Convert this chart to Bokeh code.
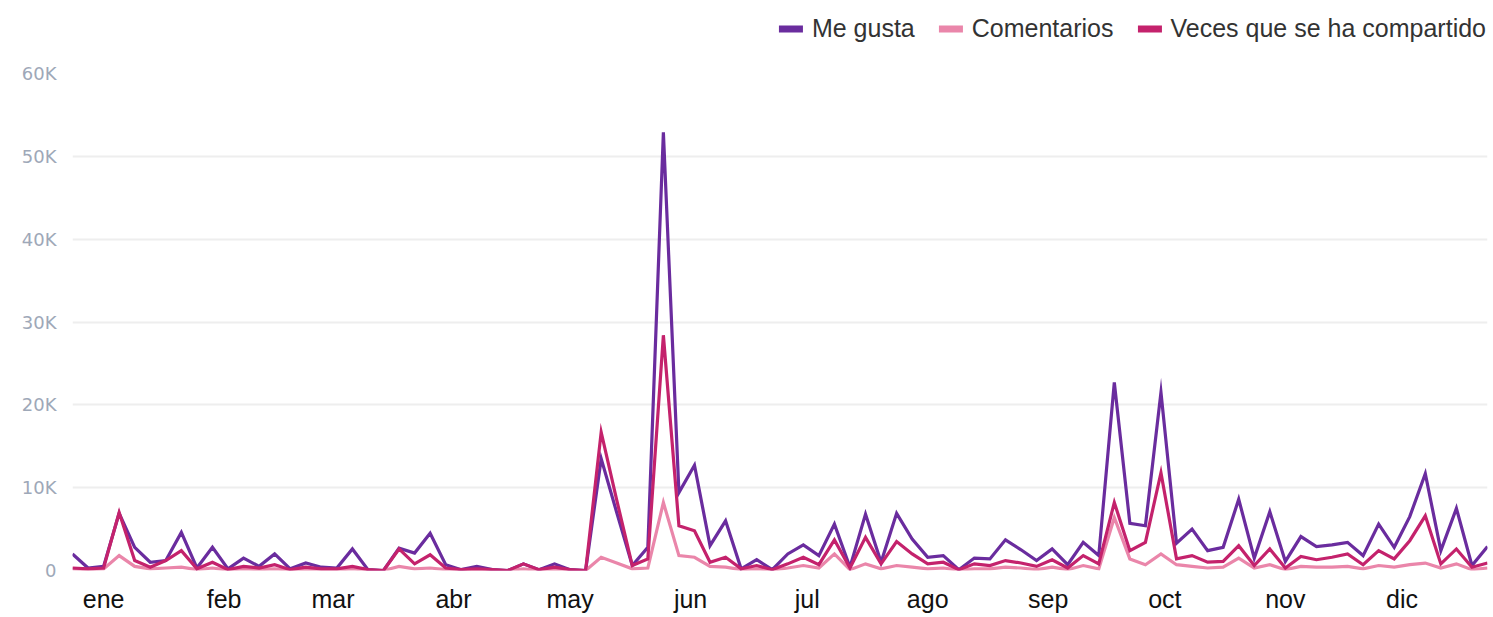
import datetime
from bokeh.plotting import figure
from bokeh.layouts import column
from bokeh.models import ColumnDataSource, Legend, LegendItem, FixedTicker, Range1d
from bokeh.embed import file_html
from bokeh.resources import INLINE

# ---------------- data ----------------
start_date = datetime.datetime(2016, 12, 24)
step_days = 4

me_gusta = [2000, 300, 500, 6900, 2800, 1000, 1200, 4600, 300, 2800,
            200, 1500, 500, 2000, 200, 900, 400, 300, 2600, 100,
            0, 2700, 2100, 4500, 700, 100, 500, 100, 0, 800,
            100, 800, 100, 0, 13500, 7000, 600, 2800, 52900, 9400,
            12700, 3000, 6000, 200, 1300, 100, 2000, 3100, 1800, 5600,
            400, 6800, 1000, 6900, 3800, 1600, 1800, 100, 1500, 1400,
            3700, 2500, 1200, 2600, 700, 3400, 1800, 22700, 5700, 5400,
            21500, 3300, 5000, 2400, 2800, 8600, 1500, 7100, 1100, 4100,
            2900, 3100, 3400, 1800, 5600, 2800, 6500, 11700, 2400, 7500,
            600, 2900]

comentarios = [200, 100, 200, 1800, 500, 200, 300, 400, 100, 300,
               50, 200, 100, 200, 50, 100, 50, 50, 200, 0,
               0, 500, 200, 300, 100, 0, 100, 0, 0, 200,
               0, 100, 0, 0, 1600, 900, 200, 300, 8200, 1800,
               1600, 500, 400, 100, 200, 50, 300, 600, 300, 2000,
               100, 800, 200, 600, 400, 200, 300, 50, 200, 200,
               400, 300, 100, 400, 100, 600, 200, 6400, 1400, 700,
               2000, 700, 500, 300, 400, 1500, 300, 700, 100, 500,
               400, 400, 500, 200, 600, 400, 700, 900, 300, 800,
               100, 300]

compartido = [300, 200, 300, 7000, 1200, 400, 1200, 2400, 200, 1000,
              100, 500, 300, 700, 100, 400, 200, 200, 500, 100,
              0, 2600, 800, 1900, 300, 100, 200, 100, 0, 800,
              100, 400, 100, 0, 16700, 8500, 600, 1400, 28400, 5400,
              4800, 1000, 1600, 200, 600, 100, 800, 1600, 700, 3700,
              300, 4000, 800, 3500, 2000, 800, 1000, 100, 800, 600,
              1200, 900, 500, 1300, 300, 1800, 800, 8200, 2400, 3400,
              11800, 1400, 1800, 1000, 1100, 3000, 600, 2600, 300, 1700,
              1300, 1600, 2000, 700, 2400, 1400, 3600, 6600, 800, 2600,
              400, 900]

series_names = ["Me gusta", "Comentarios", "Veces que se ha compartido"]
series_colors = ["#6a2c9e", "#ea86aa", "#c4226c"]

month_labels = ["ene", "feb", "mar", "abr", "may", "jun",
                "jul", "ago", "sep", "oct", "nov", "dic"]
month_year = 2017

y_ticks = [0, 10000, 20000, 30000, 40000, 50000, 60000]
y_tick_labels = ["0", "10K", "20K", "30K", "40K", "50K", "60K"]

# ---------------- build ----------------
W = 1493
LEG_H = 56
MAIN_H = 617 - LEG_H

dates = [start_date + datetime.timedelta(days=step_days * i) for i in range(len(me_gusta))]
src = ColumnDataSource(dict(x=dates, me=me_gusta, com=comentarios, comp=compartido))

p = figure(width=W, height=MAIN_H, x_axis_type="datetime",
           output_backend="svg", toolbar_location=None,
           x_range=Range1d(dates[0], dates[-1]),
           y_range=Range1d(0, 60000),
           min_border_left=72, min_border_right=6,
           min_border_top=17, min_border_bottom=47)
p.outline_line_color = None
p.background_fill_color = "white"
p.border_fill_color = "white"

cols = ["me", "com", "comp"]
for col, color in zip(cols, series_colors):
    p.line("x", col, source=src, line_color=color, line_width=3.2,
           line_join="miter")

# y axis
p.yaxis.ticker = FixedTicker(ticks=y_ticks)
p.yaxis.major_label_overrides = {t: l for t, l in zip(y_ticks, y_tick_labels)}
p.yaxis.axis_line_color = None
p.yaxis.major_tick_line_color = None
p.yaxis.minor_tick_line_color = None
p.yaxis.major_label_text_font = "DejaVu Sans"
p.yaxis.major_label_text_font_size = "18px"
p.yaxis.major_label_text_color = "#9ea8b8"
p.yaxis.major_label_standoff = 10

p.ygrid.grid_line_color = "#eeeeee"
p.ygrid.grid_line_width = 2
p.xgrid.grid_line_color = None

# x axis: month starts
month_ticks = [datetime.datetime(month_year, m, 1).timestamp() * 1000 for m in range(1, 13)]
p.xaxis.ticker = FixedTicker(ticks=month_ticks)
p.xaxis.major_label_overrides = {t: l for t, l in zip(month_ticks, month_labels)}
p.xaxis.axis_line_color = None
p.xaxis.major_tick_line_color = None
p.xaxis.minor_tick_line_color = None
p.xaxis.major_label_text_font = "Liberation Sans"
p.xaxis.major_label_text_font_size = "25px"
p.xaxis.major_label_text_color = "#111111"
p.xaxis.major_label_standoff = 8

# ---------------- legend strip ----------------
lf = figure(width=W, height=LEG_H, output_backend="svg", toolbar_location=None,
            x_range=Range1d(0, 1), y_range=Range1d(0, 1),
            min_border_left=0, min_border_right=0, min_border_top=0, min_border_bottom=0)
lf.axis.visible = False
lf.grid.visible = False
lf.outline_line_color = None
lf.background_fill_color = "white"
lf.border_fill_color = "white"

items = []
for name, color in zip(series_names, series_colors):
    r = lf.line(x=[0.5], y=[float("nan")], line_color=color,
                line_width=7, line_cap="round")
    items.append(LegendItem(label=name, renderers=[r]))

legend = Legend(items=items, orientation="horizontal", location="right")
legend.label_text_font = "Liberation Sans"
legend.label_text_font_size = "25px"
legend.label_text_color = "#333333"
legend.glyph_width = 24
legend.glyph_height = 20
legend.label_standoff = 9
legend.spacing = 24
legend.padding = 0
legend.margin = 1
legend.border_line_color = None
legend.background_fill_alpha = 0
lf.add_layout(legend, "center")

layout = column(lf, p, spacing=0)
open("out.html", "w").write(file_html(layout, INLINE))
